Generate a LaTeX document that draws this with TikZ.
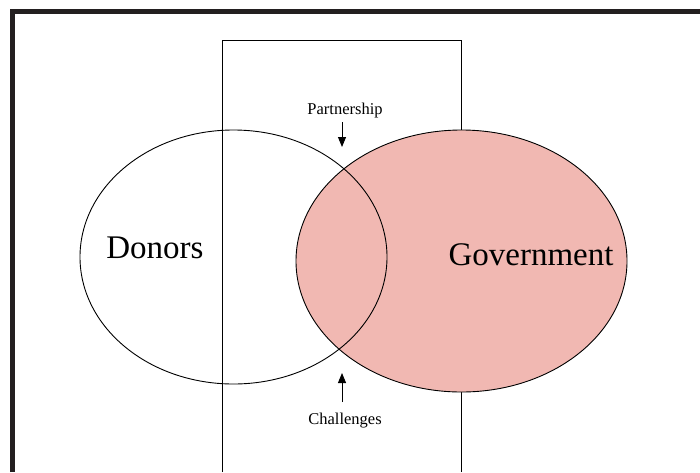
\documentclass[tikz,border=0pt]{standalone}
\usepackage{fontspec}
\setmainfont{Liberation Serif}
\usetikzlibrary{arrows.meta}
\definecolor{govpink}{HTML}{F1B8B2}
\definecolor{framegrey}{HTML}{231F20}

\tikzset{
  bigword/.style={font=\fontsize{33}{36}\selectfont, inner sep=0pt, anchor=base},
  smallword/.style={font=\fontsize{16.5}{19}\selectfont, inner sep=0pt, anchor=base},
  pointer/.style={-{Triangle[length=10pt,width=8pt]}, line width=0.9pt}
}

\begin{document}
\begin{tikzpicture}[x=1pt,y=-1pt]
\useasboundingbox (0,0) rectangle (700,472);

% outer frame
\draw[framegrey, line width=5pt] (12.5,472) -- (12.5,11.5) -- (700,11.5);

% middle band
\draw[line width=0.9pt] (222,472) -- (222,40.5) -- (461,40.5) -- (461,472);

% government circle
\draw[fill=govpink, line width=0.9pt] (461.5,261) ellipse [x radius=165.5pt, y radius=131pt];

% donors circle
\draw[line width=0.9pt] (233.5,257) ellipse [x radius=153.5pt, y radius=127pt];

% names
\node[bigword] (donors) at (155,258) {Donors};
\node[bigword] (govt) at (531,265) {Government};

% partnership
\node[smallword] (partner) at (345,114) {Partnership};
\coordinate (partnerTail) at (342,122);
\coordinate (partnerTip) at (342,147);
\draw[pointer] (partnerTail) -- (partnerTip);

% challenges
\node[smallword] (challenge) at (345,424) {Challenges};
\coordinate (challengeTail) at (342,402);
\coordinate (challengeTip) at (342,373);
\draw[pointer] (challengeTail) -- (challengeTip);

\end{tikzpicture}
\end{document}
